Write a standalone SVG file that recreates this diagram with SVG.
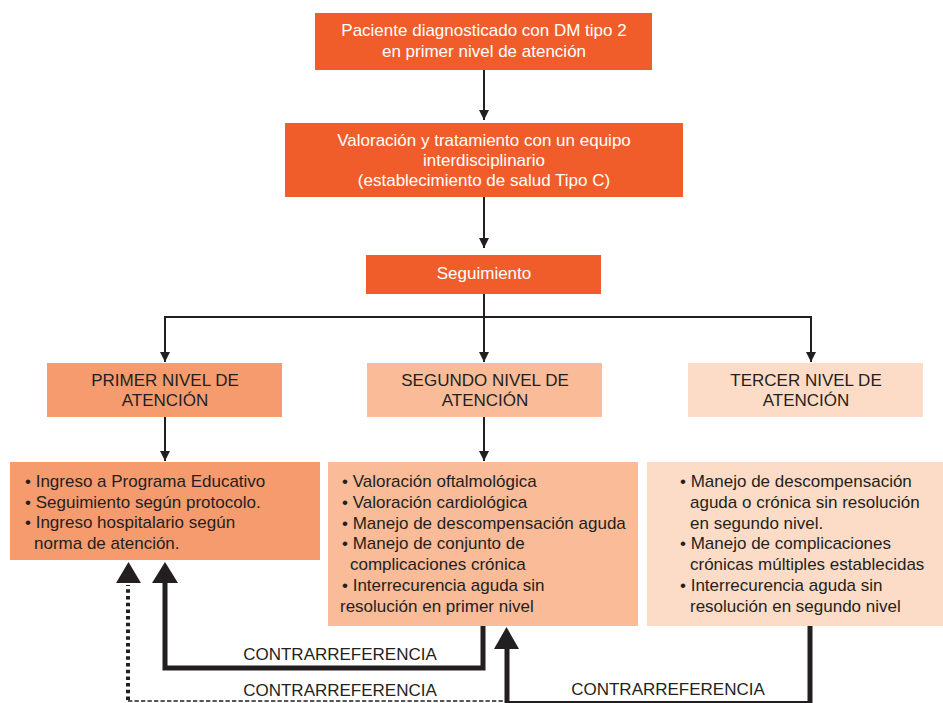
<svg xmlns="http://www.w3.org/2000/svg" width="943" height="703" viewBox="0 0 943 703">
<style>
text{font-family:"Liberation Sans",Arial,sans-serif;font-size:17px;fill:#231F20}
.w{fill:#FFFFFF;text-anchor:middle}
.c{text-anchor:middle}
.top{fill:#F15D2A}
.l1{fill:#F69B6E}
.l2{fill:#F9BB98}
.l3{fill:#FDDCC7}
.thin{stroke:#231F20;stroke-width:2;fill:none}
.thick{stroke:#231F20;stroke-width:5;fill:none}
.head{fill:#231F20}
</style>
<defs>
<marker id="ah" viewBox="0 0 10 10" refX="10" refY="5" markerWidth="10" markerHeight="10" markerUnits="userSpaceOnUse" orient="auto">
<path d="M0,0 L10,5 L0,10 z" fill="#231F20"/>
</marker>
</defs>
<rect width="943" height="703" fill="#FFFFFF"/>

<g id="n1">
<rect class="top" x="315" y="13" width="337" height="57"/>
<text class="w" x="484" y="36">Paciente diagnosticado con DM tipo 2</text>
<text class="w" x="484" y="57">en primer nivel de atención</text>
</g>
<g id="n2">
<rect class="top" x="285" y="123" width="398" height="74"/>
<text class="w" x="484" y="146">Valoración y tratamiento con un equipo</text>
<text class="w" x="484" y="166">interdisciplinario</text>
<text class="w" x="484" y="186">(establecimiento de salud Tipo C)</text>
</g>
<g id="n3">
<rect class="top" x="366" y="255" width="235" height="39"/>
<text class="w" x="484" y="279">Seguimiento</text>
</g>
<g id="lvl1">
<rect class="l1" x="47" y="363" width="235" height="54"/>
<text class="c" x="165" y="386">PRIMER NIVEL DE</text>
<text class="c" x="165" y="406">ATENCIÓN</text>
</g>
<g id="lvl2">
<rect class="l2" x="367" y="363" width="235" height="54"/>
<text class="c" x="485" y="386">SEGUNDO NIVEL DE</text>
<text class="c" x="485" y="406">ATENCIÓN</text>
</g>
<g id="lvl3">
<rect class="l3" x="688" y="363" width="235" height="54"/>
<text class="c" x="806" y="386">TERCER NIVEL DE</text>
<text class="c" x="806" y="406">ATENCIÓN</text>
</g>
<g id="b1">
<rect class="l1" x="10" y="462" width="310" height="98"/>
<text x="25" y="487">• Ingreso a Programa Educativo</text>
<text x="25" y="507.5">• Seguimiento según protocolo.</text>
<text x="25" y="528">• Ingreso hospitalario según</text>
<text x="34" y="548.5">norma de atención.</text>
</g>
<g id="b2">
<rect class="l2" x="328" y="462" width="310" height="164"/>
<text x="342" y="487">• Valoración oftalmológica</text>
<text x="342" y="507.8">• Valoración cardiológica</text>
<text x="342" y="528.6">• Manejo de descompensación aguda</text>
<text x="342" y="549.4">• Manejo de conjunto de</text>
<text x="350" y="570.2">complicaciones crónica</text>
<text x="342" y="591">• Interrecurencia aguda sin</text>
<text x="340" y="611.8">resolución en primer nivel</text>
</g>
<g id="b3">
<rect class="l3" x="647" y="462" width="296" height="164"/>
<text x="680" y="487">• Manejo de descompensación</text>
<text x="690" y="507.8">aguda o crónica sin resolución</text>
<text x="690" y="528.6">en segundo nivel.</text>
<text x="680" y="549.4">• Manejo de complicaciones</text>
<text x="690" y="570.2">crónicas múltiples establecidas</text>
<text x="680" y="591">• Interrecurencia aguda sin</text>
<text x="690" y="611.8">resolución en segundo nivel</text>
</g>

<g id="connectors">
<line class="thin" x1="484" y1="70" x2="484" y2="120" marker-end="url(#ah)"/>
<line class="thin" x1="484" y1="197" x2="484" y2="248" marker-end="url(#ah)"/>
<line class="thin" x1="484" y1="294" x2="484" y2="317"/>
<line class="thin" x1="164" y1="317" x2="812" y2="317"/>
<line class="thin" x1="165" y1="317" x2="165" y2="362" marker-end="url(#ah)"/>
<line class="thin" x1="484" y1="317" x2="484" y2="362" marker-end="url(#ah)"/>
<line class="thin" x1="811" y1="317" x2="811" y2="362" marker-end="url(#ah)"/>
<line class="thin" x1="165" y1="417" x2="165" y2="461" marker-end="url(#ah)"/>
<line class="thin" x1="484" y1="417" x2="484" y2="461" marker-end="url(#ah)"/>

<polyline class="thick" points="483,626 483,668 165,668 165,582"/>
<polygon class="head" points="152,583 178,583 165,562"/>

<line x1="128" y1="700" x2="128" y2="585" stroke="#231F20" stroke-width="4" stroke-dasharray="3.5 3.2"/>
<polygon class="head" points="116,583 141,583 128.5,562"/>
<line x1="128" y1="701" x2="505" y2="701" stroke="#231F20" stroke-width="1.3" stroke-dasharray="4.3 2.2"/>

<polyline class="thick" points="810,626 810,703.5 507,703.5 507,647"/>
<polygon class="head" points="494,649 519,649 506.5,627"/>

<text class="c" x="340" y="660">CONTRARREFERENCIA</text>
<text class="c" x="340" y="696">CONTRARREFERENCIA</text>
<text class="c" x="668" y="695">CONTRARREFERENCIA</text>
</g>
</svg>
